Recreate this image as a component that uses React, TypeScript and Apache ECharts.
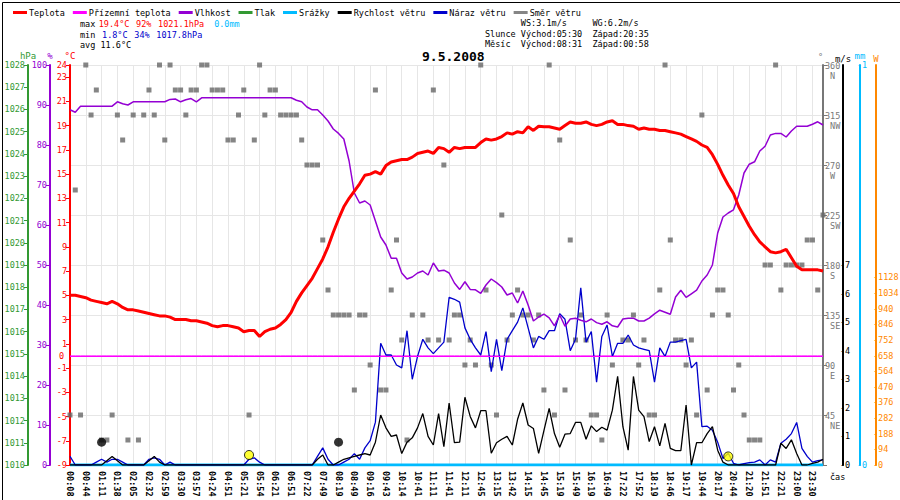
import * as echarts from "echarts";
import React, { useEffect, useRef } from "react";

const timeLabels = [
  "00:08", "00:44", "01:11", "01:38", "02:05", "02:32", "02:59", "03:30", "03:57", "04:24",
  "04:51", "05:21", "05:54", "06:21", "06:51", "07:22", "07:49", "08:19", "08:49", "09:16",
  "09:43", "10:14", "10:41", "11:11", "11:41", "12:11", "12:45", "13:15", "13:42", "14:15",
  "14:45", "15:19", "15:49", "16:19", "16:49", "17:22", "17:52", "18:19", "18:46", "19:17",
  "19:44", "20:17", "20:44", "21:20", "21:51", "22:21", "23:00", "23:30",
];

// °C
const temperature = [
  5.0, 5.0, 4.9, 4.8, 4.6, 4.5, 4.4, 4.3, 4.5, 4.3, 4.0, 3.8, 3.8, 3.7, 3.6, 3.5, 3.4, 3.3, 3.3, 3.2,
  3.0, 3.0, 3.0, 2.9, 2.9, 2.8, 2.7, 2.5, 2.4, 2.5, 2.5, 2.4, 2.3, 2.0, 2.1, 2.1, 1.6, 2.0, 2.2, 2.3,
  2.6, 3.0, 3.6, 4.5, 5.2, 5.8, 6.4, 7.2, 8.0, 9.0, 10.2, 11.3, 12.3, 13.0, 13.6, 14.2, 14.9, 15.0, 15.2, 15.0,
  15.7, 16.0, 16.1, 16.2, 16.2, 16.4, 16.7, 16.8, 16.9, 16.7, 17.2, 17.1, 16.8, 17.2, 17.1, 17.2, 17.2, 17.2, 17.6, 17.9,
  17.8, 17.9, 18.1, 18.4, 18.3, 18.5, 18.4, 18.9, 18.6, 18.95, 18.9, 18.9, 18.8, 18.7, 19.0, 19.3, 19.2, 19.2, 19.3, 19.1,
  19.0, 19.1, 19.3, 19.4, 19.1, 19.1, 19.0, 18.95, 18.7, 18.8, 18.7, 18.7, 18.6, 18.6, 18.5, 18.4, 18.3, 18.1, 17.9, 17.7,
  17.4, 17.2, 16.6, 15.8, 14.9, 14.1, 13.4, 12.3, 11.5, 10.7, 10.0, 9.4, 9.0, 8.6, 8.5, 8.6, 8.8, 8.1, 7.4, 7.1,
  7.1, 7.1, 7.1, 7.0,
];

// °C (sensor reports 0 all day)
const dewPoint = [
  0, 0, 0, 0, 0, 0, 0, 0, 0, 0, 0, 0, 0, 0, 0, 0, 0, 0, 0, 0, 0, 0, 0, 0, 0, 0, 0, 0, 0, 0, 0, 0, 0, 0, 0, 0,
  0, 0, 0, 0, 0, 0, 0, 0, 0, 0, 0, 0, 0, 0, 0, 0, 0, 0, 0, 0, 0, 0, 0, 0, 0, 0, 0, 0, 0, 0, 0, 0, 0, 0, 0, 0,
  0, 0, 0, 0, 0, 0, 0, 0, 0, 0, 0, 0, 0, 0, 0, 0, 0, 0, 0, 0, 0, 0, 0, 0, 0, 0, 0, 0, 0, 0, 0, 0, 0, 0, 0, 0,
  0, 0, 0, 0, 0, 0, 0, 0, 0, 0, 0, 0, 0, 0, 0, 0, 0, 0, 0, 0, 0, 0, 0, 0, 0, 0, 0, 0, 0, 0, 0, 0, 0, 0, 0, 0,
];

// %
const humidity = [
  88.8, 88.2, 89.7, 89.7, 89.7, 89.7, 89.7, 89.7, 89.7, 90.8, 90.3, 90.0, 90.8, 90.8, 90.8, 90.8, 90.8, 90.8, 90.8, 91.4,
  91.5, 90.8, 91.3, 91.6, 90.8, 91.8, 91.8, 91.8, 91.8, 91.8, 91.8, 91.8, 91.8, 91.8, 91.8, 91.8, 91.8, 91.8, 91.8, 91.8,
  91.8, 91.8, 91.8, 91.2, 90.8, 89.5, 88.8, 88.8, 87.5, 86.0, 84.0, 82.9, 81.5, 76.0, 68.0, 65.5, 66.0, 65.0, 61.0, 57.0,
  55.0, 51.7, 51.7, 48.0, 46.5, 47.0, 48.0, 48.5, 47.5, 50.5, 48.5, 48.7, 48.0, 45.5, 43.9, 45.8, 43.9, 43.8, 42.9, 45.0,
  46.5, 45.6, 44.5, 42.5, 43.0, 40.5, 43.5, 40.0, 36.0, 37.0, 37.7, 36.8, 34.8, 37.5, 34.7, 36.5, 36.7, 36.2, 35.8, 36.5,
  35.6, 35.2, 35.8, 34.8, 34.5, 36.5, 36.7, 36.7, 36.0, 36.0, 36.7, 37.8, 38.7, 38.2, 37.7, 42.0, 43.7, 41.9, 42.8, 43.7,
  46.0, 47.5, 50.0, 58.0, 62.0, 63.0, 63.8, 67.5, 73.0, 75.2, 75.8, 78.5, 79.7, 82.5, 82.9, 82.9, 82.0, 83.5, 84.7, 84.7,
  84.7, 85.2, 85.8, 85.0,
];

// m/s
const windSpeed = [
  0, 0, 0, 0, 0, 0, 0, 0.15, 0.3, 0.15, 0, 0, 0, 0, 0, 0.15, 0.3, 0.1, 0, 0,
  0, 0, 0, 0, 0, 0, 0, 0, 0, 0, 0, 0, 0, 0, 0, 0, 0, 0, 0, 0,
  0, 0, 0, 0, 0, 0, 0, 0.2, 0.35, 0, 0, 0.1, 0.2, 0.25, 0.3, 0.35, 0.4, 0.35, 0.8, 1.75,
  1.3, 1.0, 1.05, 0.4, 0.8, 0.95, 1.3, 1.8, 1.0, 0.7, 1.8, 0.64, 2.17, 0.78, 0.8, 2.37, 1.7, 1.3, 1.9, 1.9,
  0.41, 0.78, 0.9, 1.0, 0.7, 1.6, 2.17, 1.4, 1.28, 0.41, 1.2, 1.98, 1.1, 0.62, 1.08, 1.1, 1.49, 1.49, 0.9, 1.37,
  1.17, 1.32, 1.22, 1.92, 3.1, 1.34, 0.52, 3.1, 1.92, 1.69, 0.82, 1.34, 0.67, 1.46, 0.58, 0.5, 0.5, 2.1, 0, 0.78,
  0.78, 1.1, 1.34, 0.52, 0.1, 0, 0, 0, 0, 0, 0, 0, 0, 0, 0, 0.76, 0.58, 0.88, 0.4, 0,
  0, 0.06, 0.1, 0.2,
];

// m/s
const windGust = [
  0.3, 0, 0, 0, 0, 0.1, 0.2, 0.1, 0.2, 0.2, 0.1, 0, 0, 0, 0, 0.2, 0.25, 0.2, 0, 0.1,
  0, 0, 0, 0, 0, 0, 0, 0, 0, 0, 0, 0, 0, 0, 0.2, 0.25, 0.1, 0, 0, 0,
  0, 0, 0, 0, 0, 0, 0, 0.3, 0.6, 0.2, 0, 0, 0.1, 0.2, 0.4, 0.2, 0.6, 0.85, 1.5, 4.26,
  3.85, 3.85, 3.5, 3.4, 4.7, 3.0, 3.8, 4.4, 4.1, 3.9, 4.1, 4.3, 5.87, 5.8, 5.7, 4.8, 4.4, 4.1, 3.85, 4.67,
  3.27, 4.4, 3.3, 4.4, 4.7, 5.0, 5.5, 4.8, 4.1, 4.5, 4.4, 4.7, 4.7, 5.3, 5.1, 4.0, 4.4, 6.2, 4.3, 4.67,
  2.9, 4.5, 4.9, 3.8, 4.26, 4.26, 4.55, 4.2, 4.1, 4.05, 4.0, 2.9, 4.1, 3.8, 4.3, 4.3, 4.35, 4.4, 3.4, 3.6,
  1.34, 1.36, 1.22, 0.8, 0.23, 0.41, 0.06, 0, 0.05, 0.08, 0.1, 0.18, 0, 0.18, 0.1, 0.76, 0.9, 1.1, 1.49, 0.58,
  0.3, 0.1, 0.15, 0.18,
];

// mm
const rain = [
  0, 0, 0, 0, 0, 0, 0, 0, 0, 0, 0, 0, 0, 0, 0, 0, 0, 0, 0, 0, 0, 0, 0, 0, 0, 0, 0, 0, 0, 0, 0, 0, 0, 0, 0, 0,
  0, 0, 0, 0, 0, 0, 0, 0, 0, 0, 0, 0, 0, 0, 0, 0, 0, 0, 0, 0, 0, 0, 0, 0, 0, 0, 0, 0, 0, 0, 0, 0, 0, 0, 0, 0,
  0, 0, 0, 0, 0, 0, 0, 0, 0, 0, 0, 0, 0, 0, 0, 0, 0, 0, 0, 0, 0, 0, 0, 0, 0, 0, 0, 0, 0, 0, 0, 0, 0, 0, 0, 0,
  0, 0, 0, 0, 0, 0, 0, 0, 0, 0, 0, 0, 0, 0, 0, 0, 0, 0, 0, 0, 0, 0, 0, 0, 0, 0, 0, 0, 0, 0, 0, 0, 0, 0, 0, 0,
];

// [time index, degrees]
const windDir: [number, number][] = [
  [3, 360], [17, 360], [19, 360], [25, 360], [26, 360], [36, 360], [78, 360], [91, 360], [113, 360], [134, 360],
  [5, 337.5], [15, 337.5], [20, 337.5], [21, 337.5], [23, 337.5], [24, 337.5], [27, 337.5], [28, 337.5], [29, 337.5],
  [33, 337.5], [38, 337.5], [39, 337.5], [58, 337.5], [69, 337.5],
  [4, 315], [9, 315], [12, 315], [14, 315], [16, 315], [22, 315], [32, 315], [37, 315], [40, 315], [41, 315],
  [42, 315], [43, 315], [120, 315],
  [10, 292.5], [18, 292.5], [30, 292.5], [31, 292.5], [35, 292.5], [44, 292.5], [93, 292.5],
  [45, 270], [46, 270], [47, 270], [71, 270],
  [1, 247.5],
  [82, 225], [143, 225],
  [48, 202.5], [62, 202.5], [95, 202.5], [114, 202.5], [140, 202.5], [141, 202.5],
  [132, 180], [133, 180], [136, 180], [137, 180], [138, 180], [139, 180],
  [49, 157.5], [61, 157.5], [79, 157.5], [85, 157.5], [112, 157.5], [123, 157.5], [124, 157.5], [135, 157.5], [142, 157.5],
  [50, 135], [51, 135], [52, 135], [53, 135], [55, 135], [56, 135], [65, 135], [67, 135], [73, 135], [74, 135],
  [84, 135], [86, 135], [87, 135], [89, 135], [97, 135], [102, 135], [107, 135], [122, 135], [125, 135],
  [63, 112.5], [68, 112.5], [70, 112.5], [72, 112.5], [76, 112.5], [83, 112.5], [88, 112.5], [96, 112.5], [98, 112.5],
  [105, 112.5], [106, 112.5], [109, 112.5], [115, 112.5], [116, 112.5], [118, 112.5],
  [57, 90], [75, 90], [77, 90], [80, 90], [103, 90], [108, 90], [117, 90], [127, 90],
  [54, 67.5], [59, 67.5], [60, 67.5], [90, 67.5], [94, 67.5], [121, 67.5], [126, 67.5],
  [0, 45], [2, 45], [8, 45], [34, 45], [81, 45], [92, 45], [99, 45], [100, 45], [110, 45], [111, 45], [119, 45], [128, 45],
  [6, 22.5], [7, 22.5], [11, 22.5], [13, 22.5], [64, 22.5], [101, 22.5], [129, 22.5], [130, 22.5], [131, 22.5],
];

// moon set / rise, sun rise / set markers
const moonMarks: [number, number][] = [[6, 0.8], [51, 0.8]];
const sunMarks: [number, number][] = [[34, 0.35], [125, 0.3]];

const dirNames = ["", "NE", "E", "SE", "S", "SW", "W", "NW", "N"];

const categories: string[] = [];
timeLabels.forEach((t) => categories.push(t, "", ""));

const FONT = "DejaVu Sans Mono";
const FS = 8.5;
const T_SHIFT = 9;

const App: React.FC = () => {
  const chartRef = useRef<HTMLDivElement | null>(null);

  useEffect(() => {
    document.body.style.margin = "0";
    if (!chartRef.current) return;
    const chart = echarts.init(chartRef.current, undefined, { renderer: "svg" });

    const axisBase = (color: string) => ({
      axisLine: { show: true, lineStyle: { color, width: 2 } },
      axisTick: { show: true, length: 4, lineStyle: { color } },
      splitLine: { show: false },
      nameTextStyle: { color, fontFamily: FONT, fontSize: FS + 0.5, padding: [0, 0, -2, 0] },
      axisLabel: { color, fontFamily: FONT, fontSize: FS, margin: 3, formatter: (v: number) => String(v) },
    });

    const option: echarts.EChartsOption = {
      animation: false,
      backgroundColor: "#fff",
      textStyle: { fontFamily: FONT },
      grid: { left: 70, right: 77, top: 65, bottom: 35, containLabel: false, outerBoundsMode: "none" } as any,
      legend: {
        top: 3,
        left: 8,
        itemGap: 8,
        itemWidth: 14,
        itemHeight: 3,
        icon: "rect",
        textStyle: { fontFamily: FONT, fontSize: FS, color: "#000", padding: [0, 0, 0, -3] },
        data: ["Teplota", "Přízemní teplota", "Vlhkost", "Tlak", "Srážky", "Rychlost větru", "Náraz větru", "Směr větru"],
      },
      xAxis: {
        type: "category",
        data: categories,
        boundaryGap: false,
        axisLine: { show: false },
        axisTick: { show: false },
        axisLabel: { interval: 2, rotate: -90, fontFamily: FONT, fontSize: FS, fontWeight: "bold", color: "#000", margin: 6 },
        splitLine: { show: true, interval: 2, lineStyle: { color: "#e6e6e6" } },
      },
      yAxis: [
        {
          // 0: temperature, shifted by +9
          type: "value", position: "left", offset: 0, min: 0, max: 33, interval: 2,
          name: "°C", nameGap: 4,
          ...axisBase("#ff0000"),
          axisLabel: { color: "#ff0000", fontFamily: FONT, fontSize: FS, margin: 3, formatter: (v: number) => String(v - T_SHIFT) },
        },
        {
          // 1: humidity
          type: "value", position: "left", offset: 20, min: 0, max: 100, interval: 10,
          name: "%", nameGap: 4, ...axisBase("#9400d3"),
        },
        {
          // 2: pressure
          type: "value", position: "left", offset: 42, min: 1010, max: 1028, interval: 1,
          name: "hPa", nameGap: 4, ...axisBase("#339933"),
        },
        {
          // 3: wind direction
          type: "value", position: "right", offset: 0, min: 0, max: 360, interval: 45,
          name: "°", nameGap: 4, ...axisBase("#777777"),
          nameTextStyle: { color: "#777", fontFamily: FONT, fontSize: FS, align: "right", padding: [0, 0, 0, 0] },
          splitLine: { show: true, lineStyle: { color: "#e6e6e6" } },
          axisLabel: {
            color: "#777", fontFamily: FONT, fontSize: FS, margin: 2, lineHeight: 10,
            formatter: (v: number) => (v === 0 ? "" : `${v}\n ${dirNames[v / 45]}`),
            verticalAlign: "top", padding: [-4, 0, 0, 0],
          },
        },
        {
          // 4: wind speed
          type: "value", position: "right", offset: 20, min: 0, max: 14, interval: 1,
          name: "m/s", nameGap: 4, ...axisBase("#000000"),
          axisTick: { show: false },
          axisLabel: { color: "#000", fontFamily: FONT, fontSize: FS, margin: -3, formatter: (v: number) => (v <= 7 ? "-" + v : "") },
        },
        {
          // 5: rain
          type: "value", position: "right", offset: 37, min: 0, max: 1, interval: 1,
          name: "mm", nameGap: 4, ...axisBase("#00bbff"),
          axisTick: { show: false },
          axisLabel: { color: "#00bbff", fontFamily: FONT, fontSize: FS, margin: -3, formatter: (v: number) => "-" + v },
        },
        {
          // 6: solar radiation
          type: "value", position: "right", offset: 53, min: 0, max: 2406, interval: 94,
          name: "W", nameGap: 4, ...axisBase("#ff8800"),
          axisTick: { show: false },
          axisLabel: { color: "#ff8800", fontFamily: FONT, fontSize: FS, margin: -3, formatter: (v: number) => (v <= 1128 ? "-" + v : "") },
        },
      ],
      series: [
        {
          name: "Směr větru", type: "scatter", yAxisIndex: 3, data: windDir,
          symbol: "rect", symbolSize: 5, itemStyle: { color: "#666" }, z: 1,
        },
        {
          name: "Přízemní teplota", type: "line", yAxisIndex: 0, data: dewPoint.map((v) => v + T_SHIFT),
          showSymbol: false, lineStyle: { color: "#ff00ff", width: 1 }, itemStyle: { color: "#ff00ff" }, z: 2,
          markLine: {
            silent: true, symbol: "none",
            data: [{ yAxis: T_SHIFT }],
            lineStyle: { color: "#ff00ff", width: 1, type: "solid" },
            label: { show: true, position: "start", formatter: "0", color: "#ff0000", fontFamily: FONT, fontSize: FS, distance: 6 },
          },
        },
        {
          name: "Tlak", type: "line", yAxisIndex: 2, data: [],
          showSymbol: false, lineStyle: { color: "#339933", width: 2 }, itemStyle: { color: "#339933" },
        },
        {
          name: "Srážky", type: "line", yAxisIndex: 5, data: rain,
          showSymbol: false, lineStyle: { color: "#00bbff", width: 3 }, itemStyle: { color: "#00bbff" }, z: 3,
        },
        {
          name: "Náraz větru", type: "line", yAxisIndex: 4, data: windGust,
          showSymbol: false, lineStyle: { color: "#0000cc", width: 1.3 }, itemStyle: { color: "#0000cc" }, z: 4,
        },
        {
          name: "Rychlost větru", type: "line", yAxisIndex: 4, data: windSpeed,
          showSymbol: false, lineStyle: { color: "#000", width: 1.3 }, itemStyle: { color: "#000" }, z: 5,
        },
        {
          name: "Vlhkost", type: "line", yAxisIndex: 1, data: humidity,
          showSymbol: false, lineStyle: { color: "#9400d3", width: 1.5 }, itemStyle: { color: "#9400d3" }, z: 6,
        },
        {
          name: "Teplota", type: "line", yAxisIndex: 0, data: temperature.map((v) => v + T_SHIFT),
          showSymbol: false, lineStyle: { color: "#ff0000", width: 3 }, itemStyle: { color: "#ff0000" }, z: 7,
        },
        {
          name: "moon", type: "scatter", yAxisIndex: 4, data: moonMarks,
          symbol: "circle", symbolSize: 9, itemStyle: { color: "#000" }, z: 8,
        },
        {
          name: "sun", type: "scatter", yAxisIndex: 4, data: sunMarks,
          symbol: "circle", symbolSize: 9, itemStyle: { color: "#ffff00", borderColor: "#000", borderWidth: 1 }, z: 8,
        },
      ],
      graphic: [
        { type: "rect", left: 0, top: 0, shape: { width: 899, height: 499 }, style: { fill: "none", stroke: "#000", lineWidth: 1 }, silent: true },
        {
          type: "text", left: 80, top: 18,
          style: {
            text: "{k|max} {r|19.4°C}  {r|92%}  {r|1021.1hPa}   {c|0.0mm}\n{k|min}  {b|1.8°C}  {b|34%}  {b|1017.8hPa}\n{k|avg 11.6°C}",
            lineHeight: 10.5,
            rich: {
              k: { fill: "#000", fontFamily: FONT, fontSize: FS, lineHeight: 10.5 },
              r: { fill: "#ff0000", fontFamily: FONT, fontSize: FS, lineHeight: 10.5 },
              b: { fill: "#0000cc", fontFamily: FONT, fontSize: FS, lineHeight: 10.5 },
              c: { fill: "#00bbff", fontFamily: FONT, fontSize: FS, lineHeight: 10.5 },
            },
          },
        },
        {
          type: "text", left: 485, top: 18,
          style: {
            text: "       WS:3.1m/s     WG:6.2m/s\nSlunce Východ:05:30  Západ:20:35\nMěsíc  Východ:08:31  Západ:00:58",
            fill: "#000", fontFamily: FONT, fontSize: FS, lineHeight: 10.5,
          },
        },
        {
          type: "text", left: 422, top: 50,
          style: { text: "9.5.2008", fill: "#000", fontFamily: FONT, fontSize: 13, fontWeight: "bold" },
        },
        {
          type: "text", left: 830, top: 472,
          style: { text: "čas", fill: "#000", fontFamily: FONT, fontSize: FS },
        },
      ],
    };

    chart.setOption(option);
    return () => chart.dispose();
  }, []);

  return <div ref={chartRef} style={{ width: "900px", height: "500px" }} />;
};

export default App;
